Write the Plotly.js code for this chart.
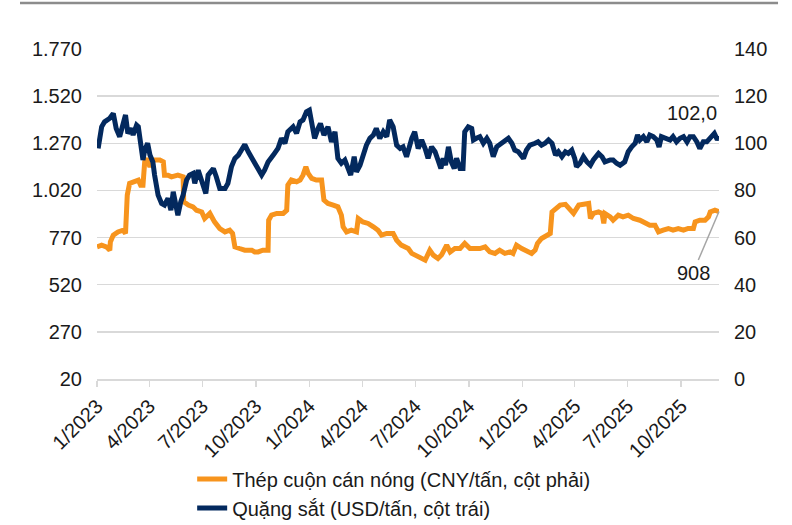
<!DOCTYPE html>
<html>
<head>
<meta charset="utf-8">
<script src="https://cdn.plot.ly/plotly-3.0.1.min.js"></script>
<style>
html,body{margin:0;padding:0;background:#fff;}
#chart{width:792px;height:525px;}
</style>
</head>
<body>
<div id="chart"></div>
<script>
// Thép cuộn cán nóng (orange) – plotted on the left scale
const hrcDates = ['2023-01-01','2023-01-09','2023-01-17','2023-01-23','2023-01-24','2023-01-29','2023-02-06','2023-02-15','2023-02-19','2023-02-22','2023-02-26','2023-03-07','2023-03-13','2023-03-17','2023-03-21','2023-03-24','2023-03-27','2023-04-02','2023-04-07','2023-04-19','2023-04-25','2023-04-27','2023-05-03','2023-05-09','2023-05-20','2023-05-29','2023-05-30','2023-06-07','2023-06-15','2023-06-21','2023-06-30','2023-07-05','2023-07-14','2023-07-22','2023-07-31','2023-08-09','2023-08-17','2023-08-22','2023-08-26','2023-09-03','2023-09-12','2023-09-24','2023-09-29','2023-10-05','2023-10-13','2023-10-22','2023-10-23','2023-10-28','2023-11-06','2023-11-17','2023-11-23','2023-11-25','2023-12-01','2023-12-10','2023-12-16','2023-12-21','2023-12-26','2023-12-30','2024-01-05','2024-01-13','2024-01-22','2024-01-26','2024-02-02','2024-02-11','2024-02-19','2024-02-25','2024-02-28','2024-03-05','2024-03-13','2024-03-22','2024-03-25','2024-04-02','2024-04-11','2024-04-20','2024-04-28','2024-05-04','2024-05-13','2024-05-24','2024-05-30','2024-06-07','2024-06-16','2024-06-19','2024-06-25','2024-07-06','2024-07-18','2024-07-26','2024-08-01','2024-08-09','2024-08-15','2024-08-24','2024-08-30','2024-09-07','2024-09-16','2024-09-24','2024-10-03','2024-10-11','2024-10-20','2024-10-29','2024-11-06','2024-11-15','2024-11-23','2024-12-02','2024-12-11','2024-12-16','2024-12-22','2024-12-31','2025-01-08','2025-01-17','2025-01-23','2025-01-27','2025-02-03','2025-02-12','2025-02-18','2025-02-21','2025-02-27','2025-03-07','2025-03-16','2025-03-24','2025-03-30','2025-04-08','2025-04-16','2025-04-25','2025-04-28','2025-05-03','2025-05-12','2025-05-18','2025-05-21','2025-05-23','2025-06-01','2025-06-06','2025-06-15','2025-06-23','2025-07-02','2025-07-11','2025-07-22','2025-07-31','2025-08-08','2025-08-17','2025-08-23','2025-08-31','2025-09-09','2025-09-17','2025-09-26','2025-10-05','2025-10-13','2025-10-22','2025-10-25','2025-11-02','2025-11-11','2025-11-17','2025-11-20','2025-11-28','2025-12-05'];
const hrcValues = [721,730,721,703,747,783,800,809,792,995,1057,1066,1075,1048,1048,1172,1190,1145,1181,1181,1172,1101,1101,1092,1101,1092,960,942,933,915,906,871,898,853,818,800,809,792,721,712,703,703,694,694,703,703,862,889,898,898,915,1048,1075,1066,1075,1101,1145,1110,1084,1075,1075,969,951,942,933,889,827,800,809,800,871,853,845,827,809,783,792,792,756,730,721,712,686,668,650,703,677,659,677,730,694,712,712,739,712,712,712,721,694,686,703,686,694,686,730,712,703,686,703,739,765,783,792,906,924,942,946,915,898,942,946,951,871,898,906,898,845,898,880,862,889,880,889,871,862,845,836,836,800,809,818,809,818,809,818,818,853,862,862,880,906,915,908];

// Quặng sắt (navy) – plotted on the right scale
const ironDates = ['2023-01-03','2023-01-09','2023-01-14','2023-01-23','2023-01-29','2023-02-03','2023-02-09','2023-02-15','2023-02-19','2023-02-23','2023-03-01','2023-03-04','2023-03-10','2023-03-13','2023-03-18','2023-03-21','2023-03-24','2023-03-29','2023-04-02','2023-04-07','2023-04-10','2023-04-16','2023-04-22','2023-04-27','2023-05-03','2023-05-08','2023-05-12','2023-05-16','2023-05-20','2023-05-25','2023-05-29','2023-06-04','2023-06-09','2023-06-15','2023-06-18','2023-06-24','2023-06-28','2023-07-02','2023-07-07','2023-07-11','2023-07-20','2023-07-25','2023-07-31','2023-08-09','2023-08-14','2023-08-20','2023-08-26','2023-09-01','2023-09-06','2023-09-12','2023-09-18','2023-09-25','2023-10-05','2023-10-11','2023-10-16','2023-10-22','2023-10-31','2023-11-08','2023-11-14','2023-11-20','2023-11-25','2023-12-04','2023-12-10','2023-12-16','2023-12-21','2023-12-27','2024-01-01','2024-01-05','2024-01-10','2024-01-16','2024-01-20','2024-01-26','2024-02-02','2024-02-08','2024-02-14','2024-02-19','2024-02-25','2024-03-02','2024-03-08','2024-03-12','2024-03-18','2024-03-22','2024-03-28','2024-04-02','2024-04-08','2024-04-14','2024-04-20','2024-04-25','2024-05-01','2024-05-07','2024-05-13','2024-05-18','2024-05-24','2024-05-30','2024-06-05','2024-06-10','2024-06-16','2024-06-25','2024-06-30','2024-07-06','2024-07-12','2024-07-18','2024-07-23','2024-07-29','2024-08-04','2024-08-09','2024-08-14','2024-08-18','2024-08-22','2024-08-27','2024-09-01','2024-09-06','2024-09-10','2024-09-16','2024-09-21','2024-09-24','2024-09-30','2024-10-06','2024-10-09','2024-10-14','2024-10-20','2024-10-26','2024-11-01','2024-11-06','2024-11-12','2024-11-18','2024-11-26','2024-12-08','2024-12-14','2024-12-19','2024-12-25','2025-01-03','2025-01-08','2025-01-14','2025-01-23','2025-01-28','2025-02-03','2025-02-09','2025-02-15','2025-02-21','2025-02-27','2025-03-04','2025-03-10','2025-03-16','2025-03-21','2025-03-27','2025-04-01','2025-04-04','2025-04-10','2025-04-16','2025-04-22','2025-04-28','2025-05-03','2025-05-12','2025-05-18','2025-05-23','2025-06-01','2025-06-06','2025-06-12','2025-06-18','2025-06-26','2025-07-02','2025-07-08','2025-07-14','2025-07-18','2025-07-22','2025-07-28','2025-08-03','2025-08-08','2025-08-14','2025-08-20','2025-08-24','2025-08-28','2025-09-06','2025-09-12','2025-09-17','2025-09-23','2025-09-29','2025-10-05','2025-10-11','2025-10-16','2025-10-22','2025-10-28','2025-11-02','2025-11-08','2025-11-14','2025-11-20','2025-11-27','2025-12-01','2025-12-05'];
const ironValues = [97.8,107,109.1,110.6,112.7,106.3,102.8,109.1,112,104.2,106.3,103.5,107.7,107,97.8,92.9,97.1,100,95,92.1,86.5,78,74.5,73.8,76.6,71.6,79.4,74.5,69.5,75.2,78,84.4,86.5,87.2,83,88.6,85.8,83,78.7,86.5,89.3,85.8,80.8,80.8,83,90,93.6,95,97.1,99.5,96.4,93.6,89.3,86.5,88.6,92.1,95,97.8,102.1,100,104.9,107,104.2,109.1,109.9,113.4,114.1,109.1,102.1,106.3,108.4,103.5,107,100.6,104.9,93.6,91.5,92.9,88.6,86.5,94.3,87.9,90.7,95,99.2,102.1,103.5,106.3,102.1,104.9,102.8,109.9,107,99.2,97.8,98.5,94.3,102.1,104.9,97.8,101.4,97.8,93.6,98.5,96.4,92.9,89.3,93.6,90.7,98.5,92.1,89.3,93.6,89.3,89.3,104.9,107,106.3,101.4,102.1,102.8,100,102.1,100,94.3,98.5,100,102.1,100,97.1,96.4,93.6,97.1,99.2,100,100.6,99.2,100,101.4,100,95,96.4,94.3,96.4,95.7,97.1,93.6,90,91.5,94.3,92.1,90.7,92.9,95.7,94.3,92.1,92.9,92.9,91.5,90.7,92.1,96.4,98.5,100,103.5,101.4,102.8,100.6,103.5,102.8,101.4,98.5,102.8,102.1,101.4,102.8,100.6,102.1,102.8,100.6,102.8,102.8,100.6,97.8,100.6,100.6,102.1,104.2,102.1,102.0];

const xTickVals = ['2023-01-01','2023-04-01','2023-07-01','2023-10-01','2024-01-01','2024-04-01','2024-07-01','2024-10-01','2025-01-01','2025-04-01','2025-07-01','2025-10-01'];
const xTickText = ['1/2023','4/2023','7/2023','10/2023','1/2024','4/2024','7/2024','10/2024','1/2025','4/2025','7/2025','10/2025'];
const leftTicks = [20,270,520,770,1020,1270,1520,1770];
const leftTickText = ['20','270','520','770','1.020','1.270','1.520','1.770'];
const rightTicks = [0,20,40,60,80,100,120,140];

const hrcName = 'Thép cuộn cán nóng (CNY/tấn, cột phải)';
const ironName = 'Quặng sắt (USD/tấn, cột trái)';
const orange = '#F7941D';
const navy = '#03295E';
const FONT = 'Liberation Sans, Arial, sans-serif';
const TXT = '#1a1a1a';

const traces = [
  {x: hrcDates, y: hrcValues, name: hrcName, type: 'scatter', mode: 'lines',
   line: {color: orange, width: 5}, yaxis: 'y'},
  {x: ironDates, y: ironValues, name: ironName, type: 'scatter', mode: 'lines',
   line: {color: navy, width: 5}, yaxis: 'y2'}
];

const lastHrcDate = hrcDates[hrcDates.length - 1];
const lastHrc = hrcValues[hrcValues.length - 1];
const lastIronDate = ironDates[ironDates.length - 1];
const lastIron = ironValues[ironValues.length - 1];

const layout = {
  width: 792, height: 525,
  margin: {l: 97, r: 73, t: 49, b: 146.3, autoexpand: false},
  paper_bgcolor: '#fff', plot_bgcolor: '#fff',
  font: {family: FONT, size: 20, color: TXT},
  showlegend: true,
  legend: {x: 0.153, y: -0.2436, xanchor: 'left', yanchor: 'top', orientation: 'v',
           font: {family: FONT, size: 20, color: TXT}, bgcolor: 'rgba(0,0,0,0)', itemwidth: 30},
  xaxis: {type: 'date', range: ['2023-01-01', '2025-12-05'], automargin: false,
          tickmode: 'array', tickvals: xTickVals, ticktext: xTickText, tickangle: -45,
          showgrid: false, zeroline: false, showline: true, linecolor: '#D9D9D9', linewidth: 1.5,
          ticks: 'outside', ticklen: 6, tickcolor: '#D9D9D9', tickwidth: 1.5,
          tickfont: {family: FONT, size: 20, color: TXT}},
  yaxis: {range: [20, 1770], tickmode: 'array', tickvals: leftTicks, ticktext: leftTickText, automargin: false,
          showgrid: true, gridcolor: '#D9D9D9', gridwidth: 1.5, zeroline: false, showline: false,
          ticks: '', ticklabelstandoff: 14, tickfont: {family: FONT, size: 20, color: TXT}},
  yaxis2: {range: [0, 140], overlaying: 'y', side: 'right', tickmode: 'array', tickvals: rightTicks, automargin: false,
           showgrid: false, zeroline: false, showline: false, ticks: '', ticklabelstandoff: 14,
           tickfont: {family: FONT, size: 20, color: TXT}},
  shapes: [
    {type: 'line', xref: 'paper', yref: 'paper', x0: -0.1238, x1: 1.0949, y0: 1.1395, y1: 1.1395,
     line: {color: '#8C8C8C', width: 2.5}}
  ],
  annotations: [
    {x: lastIronDate, y: lastIron, xref: 'x', yref: 'y2', text: '102,0', showarrow: false,
     xanchor: 'right', yanchor: 'middle', yshift: 26, xshift: 0, font: {family: FONT, size: 20, color: TXT}},
    {x: lastHrcDate, y: lastHrc, xref: 'x', yref: 'y', text: String(lastHrc), showarrow: true,
     arrowhead: 0, arrowwidth: 1.5, arrowcolor: '#A6A6A6', ax: -26, ay: 61, standoff: 0,
     font: {family: FONT, size: 20, color: TXT}}
  ]
};

Plotly.newPlot('chart', traces, layout, {displayModeBar: false, staticPlot: true});
</script>
</body>
</html>
